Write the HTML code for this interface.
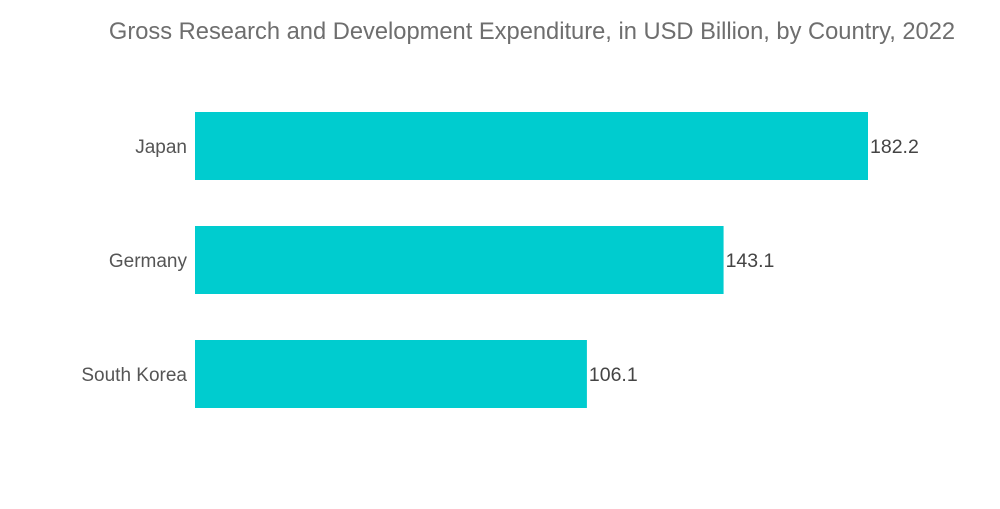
<!DOCTYPE html>
<html><head><meta charset="utf-8"><style>
body{margin:0;background:#fff;width:1000px;height:504px;overflow:hidden;font-family:"Liberation Sans",sans-serif}
</style></head><body>
<svg id="chart" width="1000" height="504" xmlns="http://www.w3.org/2000/svg">
<text x="532" y="39" text-anchor="middle" font-size="23.7" fill="#6e6e6e" font-family="Liberation Sans, sans-serif">Gross Research and Development Expenditure, in USD Billion, by Country, 2022</text>
<g id="bars"></g>
</svg>
<script>
const categories = ["Japan", "Germany", "South Korea"];
const values = [182.2, 143.1, 106.1];
const valueLabels = ["182.2", "143.1", "106.1"];
const x0 = 195, pxPerUnit = 673 / 182.2;
const xScale = v => x0 + v * pxPerUnit;
const yBand = i => 112 + i * 114;
const bandH = 68;
const ns = "http://www.w3.org/2000/svg";
const g = document.getElementById("bars");
categories.forEach((c, i) => {
  const r = document.createElementNS(ns, "rect");
  
  
  r.setAttribute("x", x0);
  r.setAttribute("y", yBand(i));
  r.setAttribute("width", xScale(values[i]) - x0);
  r.setAttribute("height", bandH);
  r.setAttribute("fill", "#00cccf");
  g.appendChild(r);
  const t = document.createElementNS(ns, "text");
  
  
  t.setAttribute("x", 187);
  t.setAttribute("y", yBand(i) + bandH / 2 + 7);
  t.setAttribute("text-anchor", "end");
  t.setAttribute("font-size", "19");
  t.setAttribute("fill", "#555");
  t.textContent = c;
  g.appendChild(t);
  const v = document.createElementNS(ns, "text");
  
  
  v.setAttribute("x", xScale(values[i]) + 2);
  v.setAttribute("y", yBand(i) + bandH / 2 + 7);
  v.setAttribute("font-size", "19.5");
  v.setAttribute("fill", "#444");
  v.textContent = valueLabels[i];
  g.appendChild(v);
});
</script>
</body></html>
